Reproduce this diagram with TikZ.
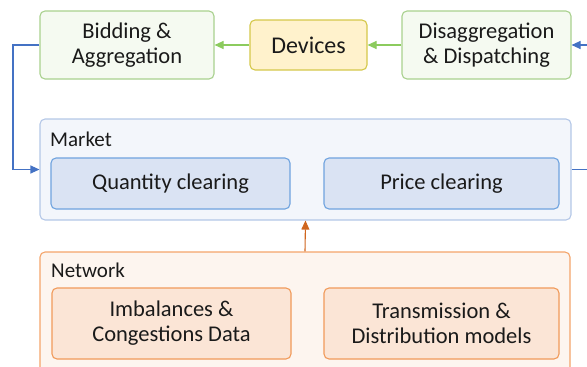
\documentclass[tikz,border=0pt]{standalone}
\usepackage{fontspec}
\setmainfont{Carlito}
\usetikzlibrary{arrows.meta}
\definecolor{grnB}{HTML}{A9D18E}
\definecolor{grnF}{HTML}{F5FAF1}
\definecolor{grnA}{HTML}{8CCB5E}
\definecolor{yelB}{HTML}{D4C84A}
\definecolor{yelF}{HTML}{FFF2CC}
\definecolor{bluB}{HTML}{B4C7E7}
\definecolor{bluF}{HTML}{F3F6FB}
\definecolor{bluIB}{HTML}{6FA3DF}
\definecolor{bluIF}{HTML}{DAE3F3}
\definecolor{bluA}{HTML}{4472C4}
\definecolor{orgB}{HTML}{F4A46A}
\definecolor{orgF}{HTML}{FDF5EF}
\definecolor{orgIB}{HTML}{F19A5A}
\definecolor{orgIF}{HTML}{FBE5D6}
\definecolor{orgA}{HTML}{D0661E}
\definecolor{txt}{HTML}{1A1A1A}
\tikzset{
  box/.style={draw, rounded corners=5pt, line width=1.1pt, align=center, inner sep=0pt, text=txt,
    font=\fontsize{22.5}{25}\selectfont},
  gbox/.style={box, draw=grnB, fill=grnF},
  ybox/.style={box, draw=yelB, fill=yelF, font=\fontsize{24}{28}\selectfont},
  mouter/.style={box, draw=bluB, fill=bluF},
  minner/.style={box, draw=bluIB, fill=bluIF},
  nouter/.style={box, draw=orgB, fill=orgF},
  ninner/.style={box, draw=orgIB, fill=orgIF},
  lbl/.style={anchor=west, inner sep=0pt, text=txt, font=\fontsize{21}{24}\selectfont},
  conn/.style={line width=1.1pt, -{Triangle[length=9pt,width=8pt]}},
}
\begin{document}
\begin{tikzpicture}[x=1pt,y=-1pt]
\clip (0,0) rectangle (587,367);
\useasboundingbox (0,0) rectangle (587,367);
% top row
\node[gbox, minimum width=174pt, minimum height=68pt] (bid) at (127,45) {Bidding \&\\Aggregation};
\node[ybox, minimum width=117pt, minimum height=50pt] (dev) at (308.5,45) {Devices};
\node[gbox, minimum width=169pt, minimum height=68pt] (dis) at (486.5,45) {Disaggregation\\\& Dispatching};
% market
\node[mouter, minimum width=531pt, minimum height=101pt] (mkt) at (305.5,169.5) {};
\node[lbl] (mktl) at (50,139) {Market};
\node[minner, minimum width=239pt, minimum height=51pt] (qty) at (170.5,183.5) {Quantity clearing};
\node[minner, minimum width=235pt, minimum height=51pt] (prc) at (441.5,183.5) {Price clearing};
% network
\node[nouter, minimum width=530pt, minimum height=136pt] (net) at (305,320) {};
\node[lbl] (netl) at (51,270) {Network};
\node[ninner, minimum width=239pt, minimum height=71pt] (imb) at (171.5,323.5) {Imbalances \&\\Congestions Data};
\node[ninner, minimum width=235pt, minimum height=71pt] (trd) at (441.5,323.5) {Transmission \&\\Distribution models};
% connectors
\coordinate (lft) at (13,45);
\coordinate (rgt) at (600,45);
\draw[conn, draw=grnA] (dev) -- (bid);
\draw[conn, draw=grnA] (dis) -- (dev);
\draw[conn, draw=bluA] (bid.west) -- (lft) |- (mkt.west);
\draw[conn, draw=bluA] (mkt.east) -- (rgt |- mkt.east) -- (rgt) -- (dis.east);
\draw[conn, draw=orgA] (net.north) -- (mkt.south);
\end{tikzpicture}
\end{document}
